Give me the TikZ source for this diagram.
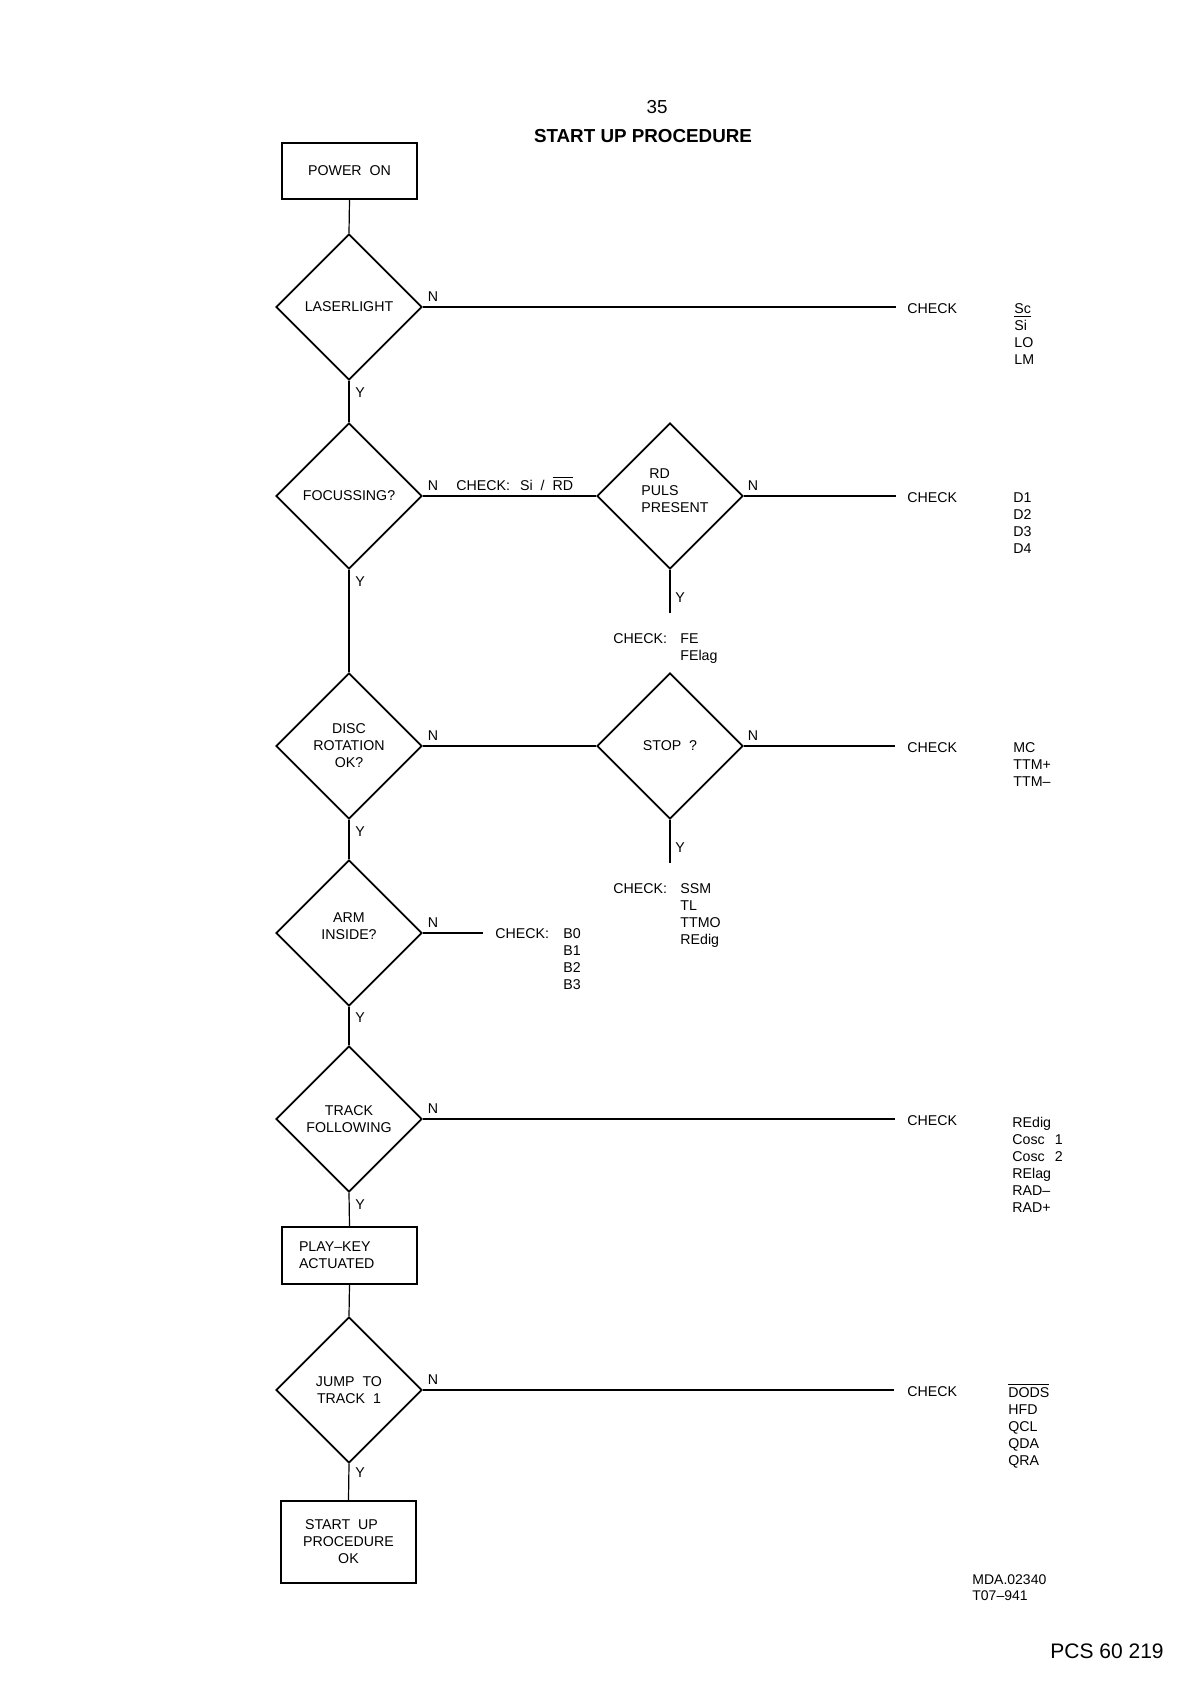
\documentclass[tikz,border=0pt]{standalone}
\usepackage{fontspec}
\setmainfont{Liberation Sans}
\usetikzlibrary{shapes.geometric}
\newcommand\fs{\fontsize{7.1}{8.5}\selectfont}
\newcommand\vlist[4]{\foreach \t [count=\i] in {#4} {\node[txt] (#1-\i) at (#2,{#3+17*(\i-1)}) {\t};}}
\begin{document}
\begin{tikzpicture}[x=0.5pt,y=-0.5pt,
  dia/.style={draw, diamond, aspect=1, minimum width=73pt, minimum height=73pt, inner sep=0pt, font=\fs, align=center, line width=0.9pt},
  box/.style={draw, rectangle, minimum width=67.5pt, inner sep=0pt, font=\fs, align=center, line width=0.9pt},
  txt/.style={font=\fs, inner sep=0pt, anchor=base west},
  lab/.style={font=\fs, inner sep=0pt, anchor=center},
  conn/.style={line width=0.6pt}]
\useasboundingbox (0,0) rectangle (1191,1683);
\fill[white] (0,0) rectangle (1191,1683);

% title
\node[font=\fontsize{9.4}{11}\selectfont, inner sep=0pt, anchor=base] (pnum) at (657,113) {35};
\node[font=\fontsize{9.4}{11}\selectfont\bfseries, inner sep=0pt, anchor=base] (title) at (643,142) {START UP PROCEDURE};

% main column
\node[box, minimum height=28pt] (power) at (349.5,171) {POWER\ \ ON};
\node[dia] (laser) at (349,307) {LASERLIGHT};
\node[dia] (focus) at (349,496) {FOCUSSING?};
\node[dia] (rd) at (670,496) {};
\node[lab, align=left] (rdtxt) at (675,491) {\hspace*{4pt}RD\\PULS\\PRESENT};
\node[dia] (disc) at (349,746) {DISC\\ROTATION\\OK?};
\node[dia] (stop) at (670,746) {STOP\ \ ?};
\node[dia] (arm) at (349,933) {};
\node[lab, align=center] (armtxt) at (349,926) {ARM\\INSIDE?};
\node[dia] (track) at (349,1119) {TRACK\\FOLLOWING};
\node[box, minimum height=28.5pt, text width=50.5pt, align=left] (play) at (349.5,1255.5) {PLAY--KEY\\ACTUATED};
\node[dia] (jump) at (349,1390) {JUMP\ \ TO\\TRACK\ \ 1};
\node[box, minimum height=41pt] (start) at (348.5,1542) {START\ \ UP\hspace*{7pt}\\PROCEDURE\\OK};

% free ends
\coordinate (e1) at (896,307);
\coordinate (e2) at (896,496);
\coordinate (e3) at (895,746);
\coordinate (e4) at (895,1119);
\coordinate (e5) at (894,1390);
\coordinate (rdY) at (670,613);
\coordinate (stopY) at (670,863);
\coordinate (armN) at (483,933);

% connectors
\draw[conn] (power.south) -- (laser.north);
\draw[conn] (laser.south) -- (focus.north);
\draw[conn] (laser.east) -- (e1);
\draw[conn] (focus.east) -- (rd.west);
\draw[conn] (rd.east) -- (e2);
\draw[conn] (rd.south) -- (rdY);
\draw[conn] (focus.south) -- (disc.north);
\draw[conn] (disc.east) -- (stop.west);
\draw[conn] (stop.east) -- (e3);
\draw[conn] (stop.south) -- (stopY);
\draw[conn] (disc.south) -- (arm.north);
\draw[conn] (arm.east) -- (armN);
\draw[conn] (arm.south) -- (track.north);
\draw[conn] (track.east) -- (e4);
\draw[conn] (track.south) -- (play.north);
\draw[conn] (play.south) -- (jump.north);
\draw[conn] (jump.east) -- (e5);
\draw[conn] (jump.south) -- (start.north);

% N / Y labels
\node[lab] (n1) at (433,297) {N};
\node[lab] (y1) at (360,393) {Y};
\node[lab] (n2) at (433,486) {N};
\node[lab] (y2) at (360,582) {Y};
\node[lab] (n3) at (753,486) {N};
\node[lab] (y3) at (680,598) {Y};
\node[lab] (n4) at (433,736) {N};
\node[lab] (y4) at (360,832) {Y};
\node[lab] (n5) at (753,736) {N};
\node[lab] (y5) at (680,848) {Y};
\node[lab] (n6) at (433,923) {N};
\node[lab] (y6) at (360,1018) {Y};
\node[lab] (n7) at (433,1109) {N};
\node[lab] (y7) at (360,1205) {Y};
\node[lab] (n8) at (433,1380) {N};
\node[lab] (y8) at (360,1473) {Y};

% inline check texts
\node[txt] (chkSi) at (456,490) {CHECK:\hspace{5pt}Si\hspace{4pt}/\hspace{4pt}$\overline{\hbox{RD}}$};
\node[txt] (chkFE) at (613,643) {CHECK:};
\vlist{fe}{680}{643}{FE,FElag}
\node[txt] (chkSSM) at (613,893) {CHECK:};
\vlist{ssm}{680}{893}{SSM,TL,TTMO,REdig}
\node[txt] (chkB) at (495,938) {CHECK:};
\vlist{bb}{563}{938}{B0,B1,B2,B3}

% right column
\node[txt] (c1) at (907,313) {CHECK};
\vlist{l1}{1014}{313}{{\underline{Sc}},Si,LO,LM}
\node[txt] (c2) at (907,502) {CHECK};
\vlist{l2}{1013}{502}{D1,D2,D3,D4}
\node[txt] (c3) at (907,752) {CHECK};
\vlist{l3}{1013}{752}{MC,TTM+,TTM--}
\node[txt] (c4) at (907,1125) {CHECK};
\vlist{l4}{1012}{1127}{REdig,{Cosc\hspace{5pt}1},{Cosc\hspace{5pt}2},RElag,RAD--,RAD+}
\node[txt] (c5) at (907,1396) {CHECK};
\vlist{l5}{1008}{1397}{{$\overline{\hbox{DODS}}$},HFD,QCL,QDA,QRA}

% footer
\node[txt, font=\fontsize{7}{8}\selectfont] (mda) at (972,1584) {MDA.02340};
\node[txt, font=\fontsize{7}{8}\selectfont] (t07) at (972,1600) {T07--941};
\node[txt, font=\fontsize{10.5}{12}\selectfont] (pcs) at (1050,1658) {PCS 60 219};
\end{tikzpicture}
\end{document}
